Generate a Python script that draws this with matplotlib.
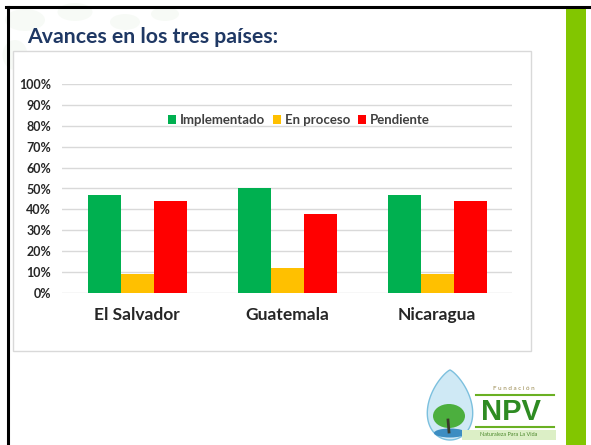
import numpy as np
import matplotlib.pyplot as plt
from matplotlib.patches import Rectangle, Polygon, Ellipse

# avance por pais (fraccion del total)
paises = ['El Salvador', 'Guatemala', 'Nicaragua']
series = ['Implementado', 'En proceso', 'Pendiente']
implementado = [0.47, 0.50, 0.47]
en_proceso = [0.09, 0.12, 0.09]
pendiente = [0.44, 0.38, 0.44]
colores = ['#00B050', '#FFC000', '#FF0000']
yticks = [0.0, 0.1, 0.2, 0.3, 0.4, 0.5, 0.6, 0.7, 0.8, 0.9, 1.0]
ytick_labels = ['0%', '10%', '20%', '30%', '40%', '50%', '60%', '70%', '80%', '90%', '100%']

W, H = 591, 445
plt.rcParams['font.family'] = ['Lato', 'DejaVu Sans']

fig = plt.figure(figsize=(W / 100, H / 100), dpi=100)

# slide background drawn in pixel coordinates
bg = fig.add_axes([0, 0, 1, 1])
bg.set_xlim(0, W)
bg.set_ylim(H, 0)
bg.axis('off')

# faint leaves in the corner
for cx, cy, rw, rh in [(25, 20, 40, 22), (75, 12, 35, 18), (125, 22, 30, 16),
                       (15, 55, 25, 30), (165, 14, 28, 14)]:
    bg.add_patch(Ellipse((cx, cy), rw, rh, color='#DDEBD8', alpha=0.22, lw=0))

bg.plot([6, W], [7, 7], color='black', lw=2.2)
bg.plot([8, 8], [7, H], color='black', lw=2.2)
bg.add_patch(Rectangle((566, 8), 20, H - 8, color='#82C600', lw=0))

bg.text(27, 43, 'Avances en los tres países:', fontsize=15.3, fontweight='bold',
        color='#1F3864', va='baseline', ha='left')

# chart frame
bg.add_patch(Rectangle((13, 51), 518, 300, facecolor='white',
                       edgecolor='#D9D9D9', lw=1))

# logo
t = np.linspace(0, 2 * np.pi, 200)
drop = np.column_stack([450 + 27 * np.sin(t) * np.sin(t / 2) ** 0.6,
                        370 + 70 * np.sin(t / 2) ** 2])
bg.add_patch(Polygon(drop, closed=True, facecolor='#CFE9F5', edgecolor='#7CC0DE', lw=1))
bg.add_patch(Ellipse((449, 416), 32, 24, color='#4CAF3E', lw=0))
bg.add_patch(Ellipse((450, 433), 32, 9, color='#3C8DC2', lw=0))
bg.plot([448, 449], [420, 432], color='#3A3A2A', lw=2)
bg.text(514, 389, 'F u n d a c i ó n', fontsize=4.5, color='#9A8A50',
        ha='center', va='center')
bg.plot([476, 554], [395, 395], color='#6AB023', lw=1.5)
bg.text(511, 412, 'NPV', fontsize=21, fontweight='bold', color='#2E8B22',
        family='Liberation Sans', ha='center', va='center')
bg.plot([476, 554], [427, 427], color='#6AB023', lw=1.5)
bg.add_patch(Rectangle((462, 430), 94, 10, color='#DCEFC6', lw=0))
bg.text(509, 435, 'Naturaleza Para La Vida', fontsize=4, color='#4E8A2E',
        ha='center', va='center')

# bar chart
ax = fig.add_axes([62 / W, (H - 293) / H, 450 / W, 209 / H])
ax.patch.set_alpha(0)
x = np.arange(len(paises))
ancho = 0.22
for i, (vals, nombre) in enumerate(zip([implementado, en_proceso, pendiente], series)):
    ax.bar(x + (i - 1) * ancho, vals, ancho, color=colores[i], label=nombre, zorder=2)

ax.set_xlim(-0.5, 2.5)
ax.set_ylim(0, 1)
ax.set_yticks(yticks)
ax.set_yticklabels(ytick_labels, fontsize=9, fontweight='bold', color='#262626')
ax.set_xticks(x)
ax.set_xticklabels(paises, fontsize=12.5, fontweight='bold', color='#262626')
ax.tick_params(axis='y', length=0, pad=8)
ax.tick_params(axis='x', length=0, pad=10)
ax.grid(axis='y', color='#D9D9D9', lw=1, zorder=0)
ax.set_axisbelow(True)
for s in ax.spines.values():
    s.set_visible(False)

fig.legend(loc='center', bbox_to_anchor=(299 / W, 1 - 120 / H), ncol=3,
           frameon=False, handlelength=0.6, handleheight=0.6,
           handletextpad=0.3, columnspacing=0.6,
           prop={'weight': 'bold', 'size': 9.5})
for txt in fig.legends[0].get_texts():
    txt.set_color('#404040')

fig.savefig('out.png', dpi=100)
